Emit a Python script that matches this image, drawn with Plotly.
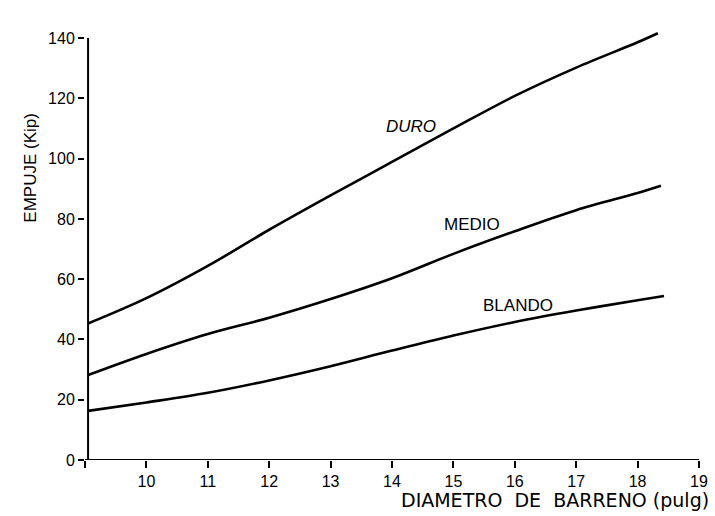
import plotly.graph_objects as go

x_duro = [9.05, 10, 11, 12, 13, 14, 15, 16, 17, 18, 18.33]
duro = [45.3, 53.7, 64.4, 76.4, 87.8, 98.9, 110.0, 120.8, 130.2, 138.6, 141.6]
x_medio = [9.05, 10, 11, 12, 13, 14, 15, 16, 17, 18, 18.38]
medio = [28.2, 35.2, 41.8, 47.2, 53.4, 60.3, 68.4, 75.9, 82.9, 88.6, 91.0]
x_blando = [9.05, 10, 11, 12, 13, 14, 15, 16, 17, 18, 18.43]
blando = [16.3, 19.1, 22.3, 26.4, 31.1, 36.3, 41.3, 45.8, 49.6, 53.0, 54.4]

series_names = ["DURO", "MEDIO", "BLANDO"]
label_texts = ["<i>DURO</i>", "MEDIO", "BLANDO"]
label_pos = [(14.31, 110.5), (15.31, 78.0), (16.05, 51.4)]

x_ticks = [9, 10, 11, 12, 13, 14, 15, 16, 17, 18, 19]
x_ticktext = ["", "10", "11", "12", "13", "14", "15", "16", "17", "18", "19"]
y_ticks = [0, 20, 40, 60, 80, 100, 120, 140]

FONT = "Liberation Sans"

fig = go.Figure()
for name, xs, ys in zip(series_names, [x_duro, x_medio, x_blando], [duro, medio, blando]):
    fig.add_trace(go.Scatter(x=xs, y=ys, mode="lines", name=name,
                             line=dict(color="black", width=2.6, shape="spline", smoothing=1.0),
                             showlegend=False, hoverinfo="x+y+name"))

for txt, (lx, ly) in zip(label_texts, label_pos):
    fig.add_annotation(x=lx, y=ly, xref="x", yref="y", text=txt, showarrow=False,
                       font=dict(family=FONT, size=17, color="black"))

# axis lines
fig.add_shape(type="line", xref="x", yref="y", x0=9.05, x1=9.05, y0=0, y1=140,
              line=dict(color="black", width=2))
fig.add_shape(type="line", xref="x", yref="y", x0=8.97, x1=19, y0=0, y1=0,
              line=dict(color="black", width=2))

fig.add_annotation(xref="paper", yref="y", x=-0.088, y=97, text="EMPUJE (Kip)",
                   textangle=-90, showarrow=False, xanchor="center", yanchor="middle",
                   font=dict(family=FONT, size=17, color="black"))
fig.add_annotation(xref="paper", yref="paper", x=1.02, y=-0.092,
                   text="DIAMETRO\u00a0 DE\u00a0 BARRENO (pulg)", showarrow=False,
                   xanchor="right", yanchor="middle",
                   font=dict(family="DejaVu Sans", size=19, color="black"))

fig.update_layout(
    width=715, height=516,
    margin=dict(l=85, r=7, t=23, b=56),
    paper_bgcolor="white", plot_bgcolor="white",
    font=dict(family=FONT, size=16, color="black"),
)
fig.update_xaxes(range=[9, 19], tickvals=x_ticks, ticktext=x_ticktext,
                 ticks="outside", ticklen=7, tickwidth=2, tickcolor="black",
                 ticklabeloverflow="allow",
                 showline=False, showgrid=False, zeroline=False,
                 tickfont=dict(family=FONT, size=16, color="black"))
fig.update_yaxes(range=[0, 145], tickvals=y_ticks,
                 ticks="outside", ticklen=6, tickwidth=2, tickcolor="black",
                 showline=False, showgrid=False, zeroline=False,
                 tickfont=dict(family=FONT, size=16, color="black"))

fig.write_html("out.html")
